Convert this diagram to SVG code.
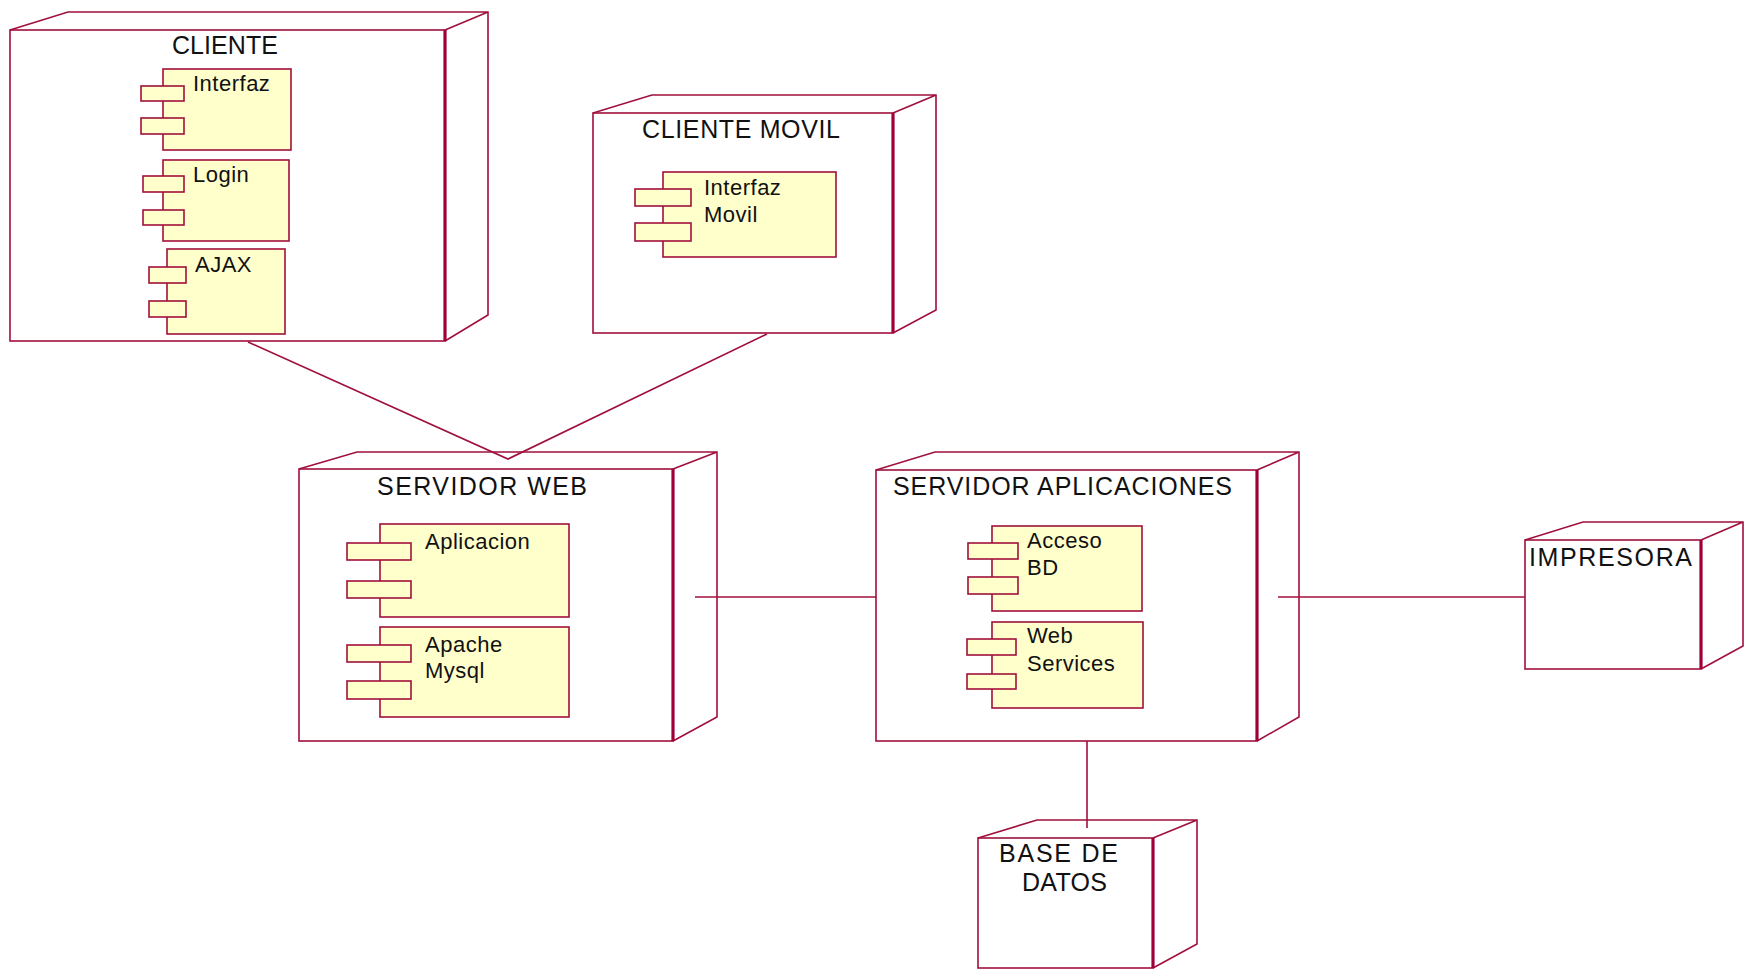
<svg xmlns="http://www.w3.org/2000/svg" width="1753" height="979" viewBox="0 0 1753 979">
<style>
.n{fill:#fff;stroke:#a0103c;stroke-width:1.6}
.e{fill:none;stroke:#a0103c;stroke-width:1.6}
.t{fill:none;stroke:#a0003a;stroke-width:3.2}
.c{fill:#ffffcc;stroke:#a0103c;stroke-width:1.6}
.h{font-family:"Liberation Sans",Arial,sans-serif;font-size:25px;fill:#111}
.l{font-family:"Liberation Sans",Arial,sans-serif;font-size:22px;letter-spacing:0.5px;fill:#111}
.k{fill:none;stroke:#a0103c;stroke-width:1.6}
</style>
<rect width="1753" height="979" fill="#fff"/>
<g id="connectors">
<path class="k" d="M248,342 L508,459 L767,334"/>
<path class="k" d="M695,597 L876,597"/>
<path class="k" d="M1278,597 L1525,597"/>
<path class="k" d="M1087,741 L1087,828"/>
</g>
<g id="cliente">
<rect class="n" x="10" y="30" width="435" height="311"/>
<path class="e" d="M10,30 L68,12 L488,12 L488,315 L445,341 M445,30 L488,12"/>
<path class="t" d="M445,30 L445,341"/>
<text class="h" x="172" y="54" textLength="106" lengthAdjust="spacing">CLIENTE</text>
<g id="c-interfaz">
<rect class="c" x="163" y="69" width="128" height="81"/>
<rect class="c" x="141" y="86" width="43" height="15"/>
<rect class="c" x="141" y="118" width="43" height="16"/>
<text class="l" x="193" y="91">Interfaz</text>
</g>
<g id="c-login">
<rect class="c" x="163" y="160" width="126" height="81"/>
<rect class="c" x="143" y="176" width="41" height="16"/>
<rect class="c" x="143" y="210" width="41" height="15"/>
<text class="l" x="193" y="182">Login</text>
</g>
<g id="c-ajax">
<rect class="c" x="167" y="249" width="118" height="85"/>
<rect class="c" x="149" y="267" width="37" height="16"/>
<rect class="c" x="149" y="301" width="37" height="16"/>
<text class="l" x="195" y="272">AJAX</text>
</g>
</g>
<g id="cliente-movil">
<rect class="n" x="593" y="113" width="300" height="220"/>
<path class="e" d="M593,113 L652,95 L936,95 L936,310 L893,333 M893,113 L936,95"/>
<path class="t" d="M893,113 L893,333"/>
<text class="h" x="642" y="138" textLength="198" lengthAdjust="spacing">CLIENTE MOVIL</text>
<g id="c-interfaz-movil">
<rect class="c" x="663" y="172" width="173" height="85"/>
<rect class="c" x="635" y="189" width="56" height="17"/>
<rect class="c" x="635" y="223" width="56" height="18"/>
<text class="l" x="704" y="195">Interfaz</text>
<text class="l" x="704" y="222">Movil</text>
</g>
</g>
<g id="servidor-web">
<rect class="n" x="299" y="469" width="374" height="272"/>
<path class="e" d="M299,469 L357,452 L717,452 L717,717 L673,741 M673,469 L717,452"/>
<path class="t" d="M673,469 L673,741"/>
<text class="h" x="377" y="495" textLength="210" lengthAdjust="spacing">SERVIDOR WEB</text>
<g id="c-aplicacion">
<rect class="c" x="380" y="524" width="189" height="93"/>
<rect class="c" x="347" y="543" width="64" height="17"/>
<rect class="c" x="347" y="581" width="64" height="17"/>
<text class="l" x="425" y="549">Aplicacion</text>
</g>
<g id="c-apache">
<rect class="c" x="380" y="627" width="189" height="90"/>
<rect class="c" x="347" y="645" width="64" height="17"/>
<rect class="c" x="347" y="681" width="64" height="18"/>
<text class="l" x="425" y="652">Apache</text>
<text class="l" x="425" y="678">Mysql</text>
</g>
</g>
<g id="servidor-aplicaciones">
<rect class="n" x="876" y="470" width="381" height="271"/>
<path class="e" d="M876,470 L935,452 L1299,452 L1299,717 L1257,741 M1257,470 L1299,452"/>
<path class="t" d="M1257,470 L1257,741"/>
<text class="h" x="893" y="495" textLength="339" lengthAdjust="spacing">SERVIDOR APLICACIONES</text>
<g id="c-acceso">
<rect class="c" x="992" y="526" width="150" height="85"/>
<rect class="c" x="968" y="543" width="50" height="16"/>
<rect class="c" x="968" y="577" width="50" height="17"/>
<text class="l" x="1027" y="548">Acceso</text>
<text class="l" x="1027" y="575">BD</text>
</g>
<g id="c-webservices">
<rect class="c" x="992" y="622" width="151" height="86"/>
<rect class="c" x="967" y="639" width="49" height="16"/>
<rect class="c" x="967" y="674" width="49" height="15"/>
<text class="l" x="1027" y="643">Web</text>
<text class="l" x="1027" y="671">Services</text>
</g>
</g>
<g id="impresora">
<rect class="n" x="1525" y="540" width="176" height="129"/>
<path class="e" d="M1525,540 L1583,522 L1743,522 L1743,646 L1701,669 M1701,540 L1743,522"/>
<path class="t" d="M1701,540 L1701,669"/>
<text class="h" x="1529" y="566" textLength="163" lengthAdjust="spacing">IMPRESORA</text>
</g>
<g id="base-de-datos">
<rect class="n" x="978" y="838" width="175" height="130"/>
<path class="e" d="M978,838 L1037,820 L1197,820 L1197,944 L1153,968 M1153,838 L1197,820"/>
<path class="t" d="M1153,838 L1153,968"/>
<text class="h" x="999" y="862" textLength="119" lengthAdjust="spacing">BASE DE</text>
<text class="h" x="1022" y="891" textLength="85" lengthAdjust="spacing">DATOS</text>
</g>
</svg>
